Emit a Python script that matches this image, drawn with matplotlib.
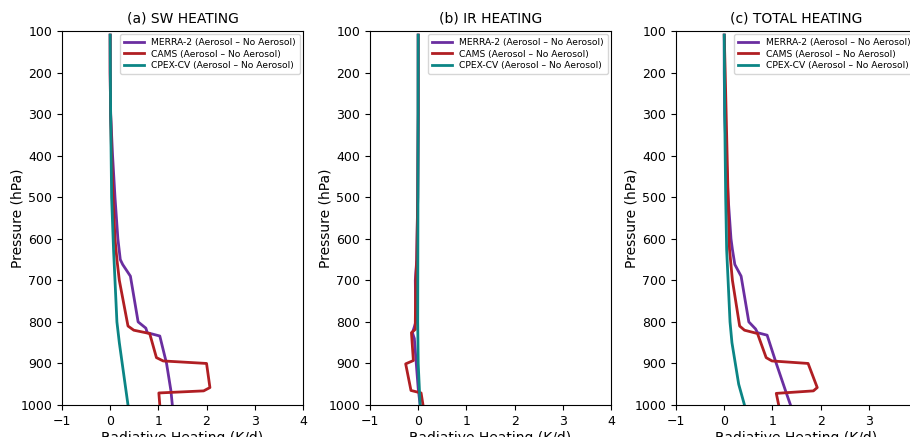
import numpy as np
import matplotlib.pyplot as plt

# pressure levels (hPa) and heating (K/d)
# ---- (a) SW
sw_merra_p = [110, 200, 300, 350, 400, 500, 600, 650, 662, 690, 800, 815, 826, 834, 900, 965, 1000]
sw_merra_x = [0.0, 0.0, 0.01, 0.03, 0.05, 0.10, 0.16, 0.21, 0.26, 0.42, 0.58, 0.74, 0.77, 1.03, 1.17, 1.26, 1.29]
sw_cams_p = [110, 200, 300, 400, 500, 600, 650, 700, 810, 820, 828, 886, 894, 900, 958, 966, 971, 1000]
sw_cams_x = [0.0, 0.0, 0.01, 0.03, 0.06, 0.10, 0.14, 0.19, 0.37, 0.49, 0.82, 0.96, 1.10, 2.00, 2.07, 1.94, 1.01, 1.03]
sw_cpex_p = [110, 300, 500, 626, 700, 800, 820, 850, 900, 950, 1000]
sw_cpex_x = [0.0, 0.01, 0.03, 0.07, 0.10, 0.14, 0.16, 0.19, 0.25, 0.31, 0.37]

# ---- (b) IR
ir_merra_p = [110, 300, 500, 650, 700, 800, 812, 826, 840, 900, 960, 1000]
ir_merra_x = [0.0, 0.0, -0.01, -0.03, -0.06, -0.05, -0.08, -0.12, -0.08, -0.04, 0.0, 0.04]
ir_cams_p = [110, 300, 500, 650, 700, 800, 818, 826, 893, 901, 965, 971, 1000]
ir_cams_x = [0.0, 0.0, -0.01, -0.03, -0.05, -0.06, -0.06, -0.14, -0.10, -0.26, -0.15, 0.06, 0.10]
ir_cpex_p = [110, 500, 800, 900, 1000]
ir_cpex_x = [0.0, -0.005, -0.01, 0.0, 0.04]

# ---- (c) TOTAL
tot_merra_p = [110, 200, 300, 400, 500, 600, 626, 662, 690, 800, 817, 826, 832, 900, 965, 1000]
tot_merra_x = [0.0, 0.0, 0.01, 0.04, 0.08, 0.14, 0.17, 0.22, 0.35, 0.51, 0.65, 0.69, 0.89, 1.08, 1.27, 1.375]
tot_cams_p = [110, 200, 300, 400, 500, 600, 626, 700, 810, 820, 828, 886, 894, 900, 958, 966, 972, 1000]
tot_cams_x = [0.0, 0.02, 0.04, 0.06, 0.08, 0.10, 0.11, 0.17, 0.32, 0.42, 0.69, 0.87, 0.99, 1.74, 1.93, 1.85, 1.08, 1.13]
tot_cpex_p = [110, 300, 500, 626, 700, 800, 850, 900, 950, 1000]
tot_cpex_x = [0.0, 0.01, 0.03, 0.05, 0.08, 0.12, 0.16, 0.23, 0.30, 0.42]

titles = ["(a) SW HEATING", "(b) IR HEATING", "(c) TOTAL HEATING"]
labels = ["MERRA-2 (Aerosol \u2013 No Aerosol)",
          "CAMS (Aerosol \u2013 No Aerosol)",
          "CPEX-CV (Aerosol \u2013 No Aerosol)"]
colors = ["#6a2ea0", "#b01e23", "#0b8585"]

panels = [
    [(sw_merra_x, sw_merra_p), (sw_cams_x, sw_cams_p), (sw_cpex_x, sw_cpex_p)],
    [(ir_merra_x, ir_merra_p), (ir_cams_x, ir_cams_p), (ir_cpex_x, ir_cpex_p)],
    [(tot_merra_x, tot_merra_p), (tot_cams_x, tot_cams_p), (tot_cpex_x, tot_cpex_p)],
]

fig = plt.figure(figsize=(9.1, 4.37), dpi=100)
lefts = [0.0681, 0.4066, 0.7429]

for i in range(3):
    ax = fig.add_axes([lefts[i], 0.0732, 0.2648, 0.856])
    for (x, p), c, lab in zip(panels[i], colors, labels):
        ax.plot(x, p, color=c, lw=2, label=lab)
    ax.set_xlim(-1, 4)
    ax.set_ylim(1000, 100)
    ax.set_xticks(np.arange(-1, 5, 1))
    ax.set_yticks(np.arange(100, 1100, 100))
    ax.tick_params(labelsize=9)
    ax.set_title(titles[i], fontsize=10)
    ax.set_ylabel("Pressure (hPa)", fontsize=10, labelpad=-3)
    ax.set_xlabel("Radiative Heating (K/d)", fontsize=10, labelpad=2)
    ax.legend(loc="upper right", fontsize=6.6, handlelength=2.2,
              borderaxespad=0.35, labelspacing=0.3)

plt.savefig("out.png", dpi=100)
